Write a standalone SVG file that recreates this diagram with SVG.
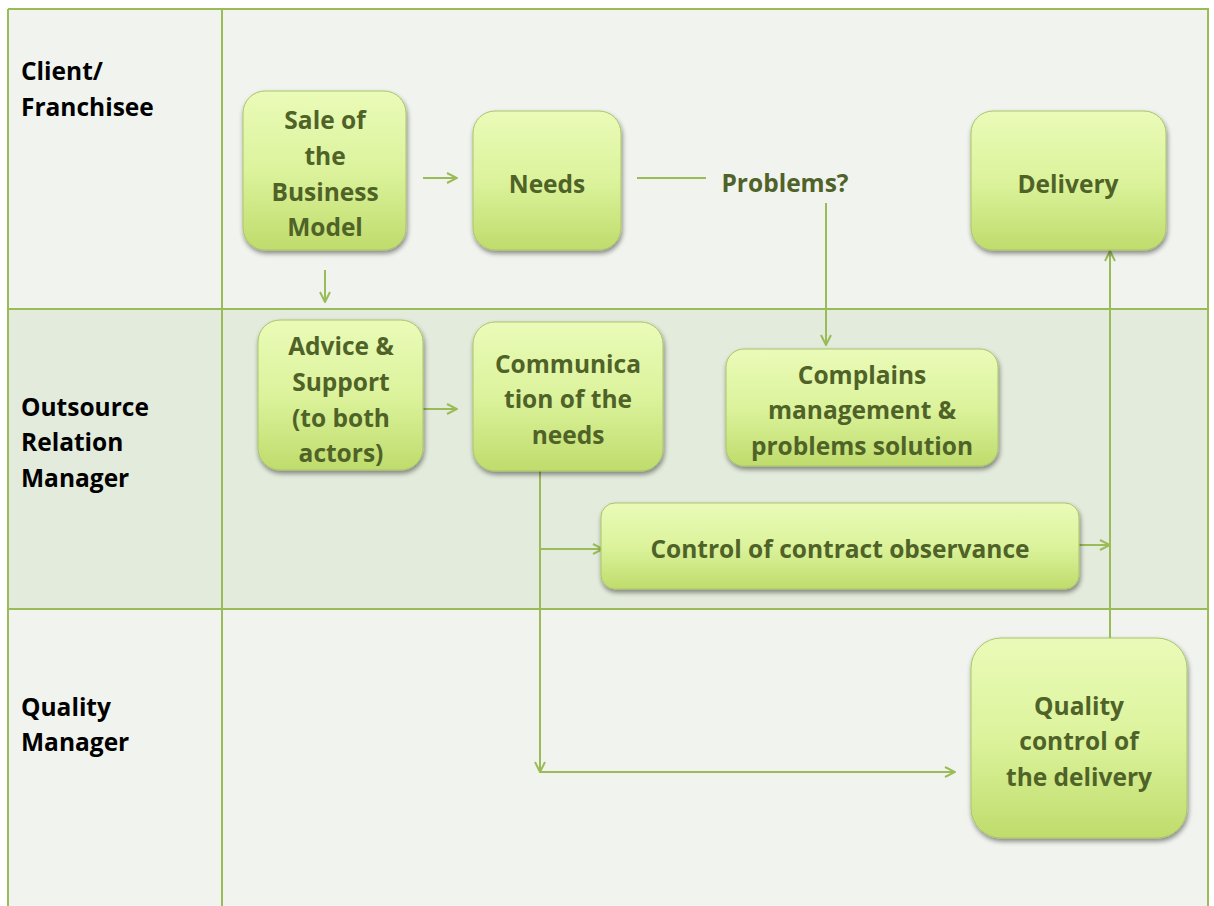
<svg xmlns="http://www.w3.org/2000/svg" width="1214" height="906" viewBox="0 0 1214 906">
<defs>
<linearGradient id="g" x1="0" y1="0" x2="0" y2="1">
<stop offset="0" stop-color="#eafbb8"/>
<stop offset="0.5" stop-color="#dcf39c"/>
<stop offset="1" stop-color="#bfdc6c"/>
</linearGradient>
<filter id="sh" x="-10%" y="-10%" width="125%" height="130%">
<feGaussianBlur in="SourceAlpha" stdDeviation="2.5"/>
<feOffset dx="1" dy="3" result="b"/>
<feComponentTransfer><feFuncA type="linear" slope="0.45"/></feComponentTransfer>
<feMerge><feMergeNode/><feMergeNode in="SourceGraphic"/></feMerge>
</filter>
<marker id="ah" viewBox="0 0 12 12" refX="11" refY="6" markerWidth="12" markerHeight="12" markerUnits="userSpaceOnUse" orient="auto">
<path d="M1,1 L11,6 L1,11" fill="none" stroke="#9bbb59" stroke-width="2"/>
</marker>
</defs>
<style>
.lane{fill:none;stroke:#9bbb59;stroke-width:2}
.lbl{font-family:"Open Sans","Liberation Sans",sans-serif;font-weight:bold;font-size:24.5px;fill:#000}
.node rect{fill:url(#g);stroke:#a9c46a;stroke-width:1;filter:url(#sh)}
.t{font-family:"Open Sans","Liberation Sans",sans-serif;font-weight:bold;font-size:24.5px;fill:#4f6228;text-anchor:middle;dominant-baseline:central}
.c{fill:none;stroke:#9bbb59;stroke-width:2}
</style>
<rect width="1214" height="906" fill="#ffffff"/>
<g id="lanes">
<rect x="8" y="9" width="1200" height="300" fill="#f1f4ee"/>
<rect x="8" y="309" width="1200" height="300" fill="#e3ebdc"/>
<rect x="8" y="609" width="1200" height="300" fill="#f1f4ee"/>
<path class="lane" d="M8,9 H1208 V906 M8,9 V906 M222,9 V906 M8,309 H1208 M8,609 H1208"/>
<text class="lbl" x="21" y="80">Client/</text>
<text class="lbl" x="21" y="116">Franchisee</text>
<text class="lbl" x="21" y="416">Outsource</text>
<text class="lbl" x="21" y="451">Relation</text>
<text class="lbl" x="21" y="487">Manager</text>
<text class="lbl" x="21" y="716">Quality</text>
<text class="lbl" x="21" y="751">Manager</text>
</g>
<g id="connectors">
<path class="c" d="M423,178 H457" marker-end="url(#ah)"/>
<path class="c" d="M325,270 V302" marker-end="url(#ah)"/>
<path class="c" d="M637,178 H706"/>
<path class="c" d="M826,203 V345" marker-end="url(#ah)"/>
<path class="c" d="M423,409 H457" marker-end="url(#ah)"/>
<path class="c" d="M540,471 V772" marker-end="url(#ah)"/>
<path class="c" d="M540,772 H955" marker-end="url(#ah)"/>
<path class="c" d="M540,549 H603" marker-end="url(#ah)"/>
<path class="c" d="M1079,545 H1110" marker-end="url(#ah)"/>
<path class="c" d="M1110,640 V251" marker-end="url(#ah)"/>
</g>
<g id="n-sale" class="node"><rect x="243" y="91" width="163" height="159" rx="22"/>
<text class="t" x="325" y="119">Sale of</text><text class="t" x="325" y="155">the</text><text class="t" x="325" y="191">Business</text><text class="t" x="325" y="226">Model</text></g>
<g id="n-needs" class="node"><rect x="473" y="111" width="148" height="139" rx="22"/>
<text class="t" x="547" y="183">Needs</text></g>
<g id="n-problems"><text class="t" x="785" y="182">Problems?</text></g>
<g id="n-delivery" class="node"><rect x="971" y="111" width="195" height="139" rx="22"/>
<text class="t" x="1068" y="183">Delivery</text></g>
<g id="n-advice" class="node"><rect x="258" y="320" width="165" height="150" rx="22"/>
<text class="t" x="341" y="345">Advice &amp;</text><text class="t" x="341" y="381">Support</text><text class="t" x="341" y="417">(to both</text><text class="t" x="341" y="452">actors)</text></g>
<g id="n-comm" class="node"><rect x="473" y="322" width="190" height="149" rx="22"/>
<text class="t" x="568" y="363">Communica</text><text class="t" x="568" y="398">tion of the</text><text class="t" x="568" y="434">needs</text></g>
<g id="n-complains" class="node"><rect x="726" y="349" width="272" height="117" rx="18"/>
<text class="t" x="862" y="374">Complains</text><text class="t" x="862" y="409">management &amp;</text><text class="t" x="862" y="445">problems solution</text></g>
<g id="n-control" class="node"><rect x="601" y="503" width="478" height="86" rx="14"/>
<text class="t" x="840" y="548">Control of contract observance</text></g>
<g id="n-quality" class="node"><rect x="971" y="638" width="216" height="200" rx="30"/>
<text class="t" x="1079" y="705">Quality</text><text class="t" x="1079" y="740">control of</text><text class="t" x="1079" y="776">the delivery</text></g>
</svg>
